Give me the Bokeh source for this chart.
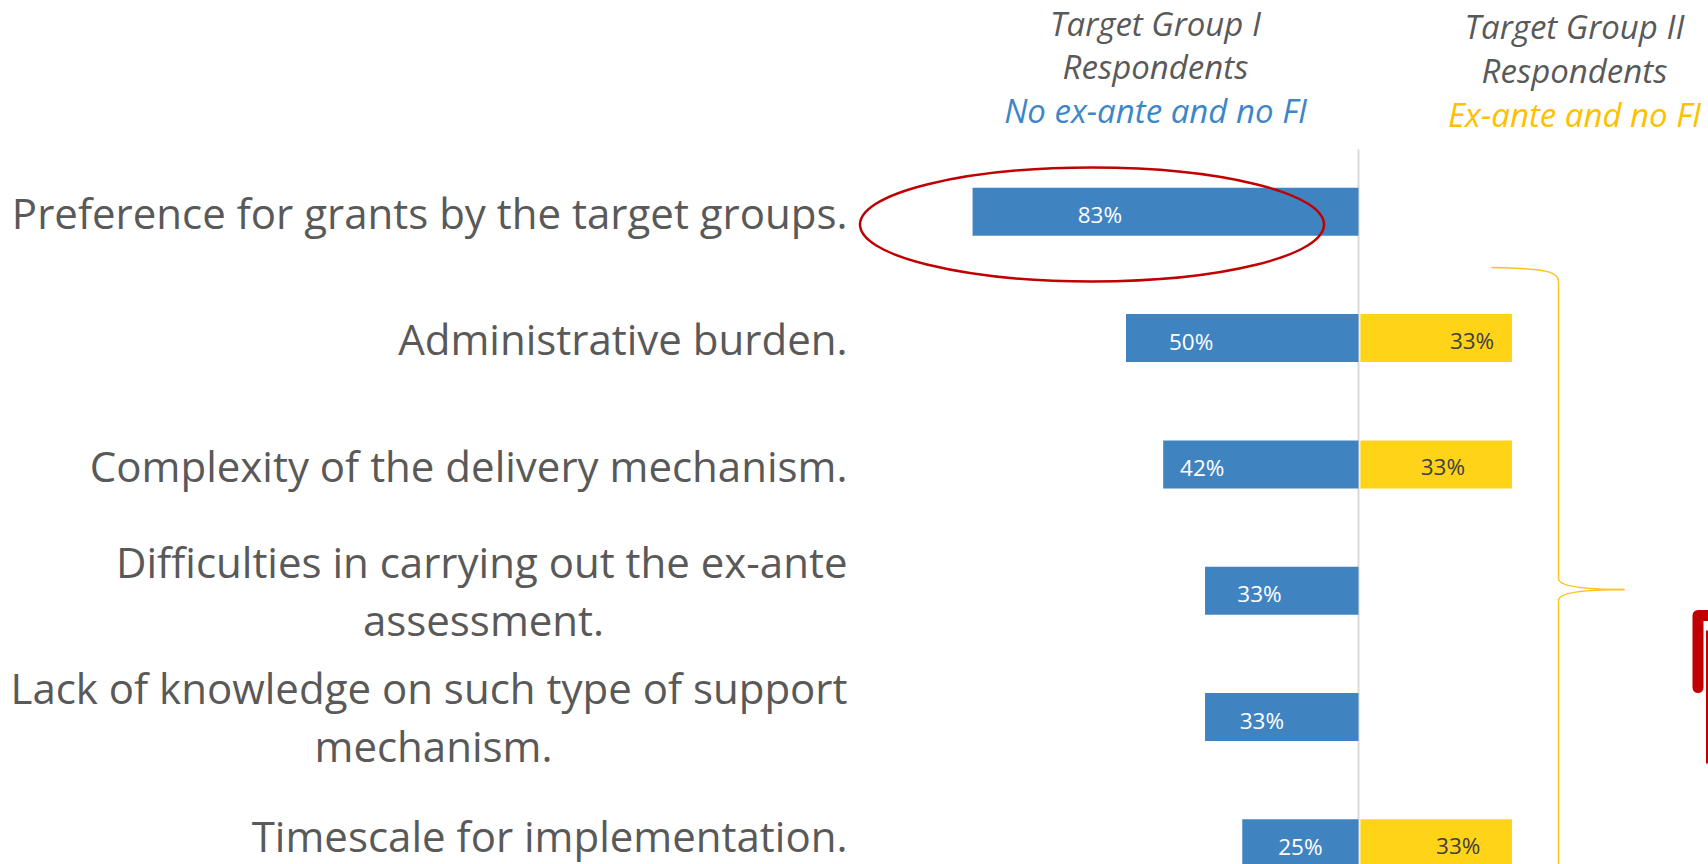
from bokeh.plotting import figure
from bokeh.models import Range1d
from bokeh.core.properties import value
from bokeh.embed import file_html
from bokeh.resources import INLINE

# ---- data ----
categories = [
    "Preference for grants by the target groups.",
    "Administrative burden.",
    "Complexity of the delivery mechanism.",
    "Difficulties in carrying out the ex-ante assessment.",
    "Lack of knowledge on such type of support mechanism.",
    "Timescale for implementation.",
]
label_lines = [
    ["Preference for grants by the target groups."],
    ["Administrative burden."],
    ["Complexity of the delivery mechanism."],
    ["Difficulties in carrying out the ex-ante", "assessment."],
    ["Lack of knowledge on such type of support", "mechanism."],
    ["Timescale for implementation."],
]
group1 = [83, 50, 42, 33, 33, 25]   # Target Group I: No ex-ante and no FI
group2 = [0, 33, 33, 0, 0, 33]      # Target Group II: Ex-ante and no FI
header1 = ["Target Group I", "Respondents", "No ex-ante and no FI"]
header2 = ["Target Group II", "Respondents", "Ex-ante and no FI"]

# label placement within bars (fraction of bar length) - style only
lab_frac1 = [0.67, 0.72, 0.80, 0.645, 0.63, 0.50]
lab_frac2 = [0.0, 0.74, 0.55, 0.0, 0.0, 0.65]

BLUE = "#3F84C1"
YELLOW = "#FFD418"
GREY = "#595959"

# ---- page-to-data helpers (screenshot pixel coords) ----
CX, PXP = 1358.0, 4.65
Y0, RS = 211.3, 126.3
def dx(px):
    return (px - CX) / PXP
def dy(py):
    return (py - Y0) / RS

W, H = 1708, 864
p = figure(width=W, height=H, output_backend="svg", toolbar_location=None,
           x_range=Range1d(dx(0), dx(W)), y_range=Range1d(dy(H), dy(0)),
           min_border=0)
p.axis.visible = False
p.grid.visible = False
p.outline_line_color = None
p.background_fill_color = "white"

rows = list(range(len(categories)))

# center axis line
p.segment(x0=[0], y0=[dy(149)], x1=[0], y1=[dy(900)], line_color="#D9D9D9", line_width=2)

# bars
b_rows = [r for r in rows if group1[r] > 0]
p.hbar(y=b_rows, left=[-group1[r] for r in b_rows], right=0, height=0.38,
       fill_color=BLUE, line_color=None)
y_rows = [r for r in rows if group2[r] > 0]
p.hbar(y=y_rows, left=0.4, right=[group2[r] for r in y_rows], height=0.38,
       fill_color=YELLOW, line_color=None)

# value labels
p.text(x=[-group1[r] * lab_frac1[r] for r in b_rows], y=[r + 0.025 for r in b_rows],
       text=[f"{group1[r]}%" for r in b_rows], text_color="white",
       text_font=value("Open Sans"), text_font_size="22.5px",
       text_align="center", text_baseline="middle")
p.text(x=[group2[r] * lab_frac2[r] for r in y_rows], y=[r + 0.02 for r in y_rows],
       text=[f"{group2[r]}%" for r in y_rows], text_color="#404040",
       text_font=value("Open Sans"), text_font_size="22.5px",
       text_align="center", text_baseline="middle")

# category labels
label_pos = [
    [(847, 212)],
    [(847, 338)],
    [(847, 465)],
    [(847, 561), (483, 619)],
    [(847, 687), (433, 745)],
    [(847, 835)],
]
for r in rows:
    for i, line in enumerate(label_lines[r]):
        px, py = label_pos[r][i]
        p.text(x=[dx(px)], y=[dy(py)], text=[line], text_color=GREY,
               text_font=value("Open Sans"), text_font_size="42px",
               text_align="right" if i == 0 else "center", text_baseline="middle")

# headers
for lines, cx, ys, colors in [
    (header1, 1155, [23, 66, 110], [GREY, GREY, "#3D86C8"]),
    (header2, 1574, [26, 70, 114], [GREY, GREY, "#FFC000"]),
]:
    for line, yy, c in zip(lines, ys, colors):
        p.text(x=[dx(cx)], y=[dy(yy)], text=[line], text_color=c,
               text_font=value("Open Sans"), text_font_size="33px",
               text_font_style="italic", text_align="center", text_baseline="middle")

# red ellipse highlight
p.ellipse(x=[dx(1091.5)], y=[dy(224)], width=[464 / PXP], height=[114 / RS],
          fill_color=None, line_color="#C00000", line_width=2.5)

# yellow brace
BR = "#FFC21A"
p.bezier(x0=[dx(1491)], y0=[dy(267)], x1=[dx(1558)], y1=[dy(281)],
         cx0=[dx(1545)], cy0=[dy(268)], cx1=[dx(1558)], cy1=[dy(271)],
         line_color=BR, line_width=1.5)
p.segment(x0=[dx(1558)], y0=[dy(281)], x1=[dx(1558)], y1=[dy(578)], line_color=BR, line_width=1.5)
p.bezier(x0=[dx(1558)], y0=[dy(578)], x1=[dx(1624)], y1=[dy(589)],
         cx0=[dx(1558)], cy0=[dy(588)], cx1=[dx(1600)], cy1=[dy(589)],
         line_color=BR, line_width=1.5)
p.bezier(x0=[dx(1624)], y0=[dy(589)], x1=[dx(1558)], y1=[dy(600)],
         cx0=[dx(1600)], cy0=[dy(589)], cx1=[dx(1558)], cy1=[dy(590)],
         line_color=BR, line_width=1.5)
p.segment(x0=[dx(1558)], y0=[dy(600)], x1=[dx(1558)], y1=[dy(900)], line_color=BR, line_width=1.5)

# partial red callout at right edge
p.line(x=[dx(1697.5), dx(1697.5), dx(1712)], y=[dy(687), dy(615), dy(615)],
       line_color="#C00000", line_width=11, line_cap="round", line_join="round")
p.segment(x0=[dx(1706.5)], y0=[dy(630)], x1=[dx(1706.5)], y1=[dy(763)],
          line_color="#C00000", line_width=2)

open("out.html", "w").write(file_html(p, INLINE))
